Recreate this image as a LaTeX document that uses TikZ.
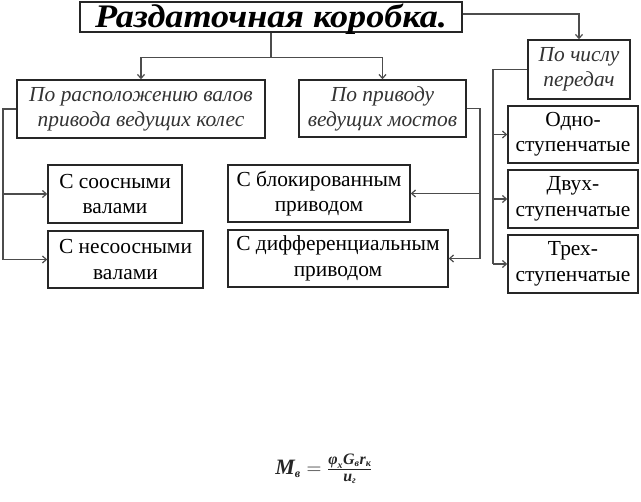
\documentclass[tikz,border=0pt]{standalone}
\usepackage{fontspec}
\setmainfont{Liberation Serif}
\newfontfamily\titlefont[FakeStretch=1.1]{Liberation Serif}
\usetikzlibrary{arrows.meta}
\newcommand{\bilet}[1]{\hbox{\fontsize{22}{24}\selectfont\bfseries\itshape #1}}
\newcommand{\cysub}[1]{\hbox{\fontsize{12}{13}\selectfont\bfseries\itshape #1}}
\newcommand{\numlet}[1]{\hbox{\fontsize{16}{18}\selectfont\bfseries\itshape #1}}
\newcommand{\numsub}[1]{\hbox{\fontsize{10}{11}\selectfont\bfseries\itshape #1}}
\begin{document}
\begin{tikzpicture}[x=1bp,y=-1bp,
  box/.style={draw=black!85, line width=1.4bp, inner sep=0pt, align=center, font=\fontsize{21.5}{25.5}\selectfont},
  ibox/.style={box, font=\fontsize{21.5}{25}\selectfont\itshape, text=black!80},
  conn/.style={draw=black!70, line width=1.2bp},
  arr/.style={conn, -{Straight Barb[length=4bp,width=7bp]}}]
\useasboundingbox (0,0) rectangle (641,502);
\node[box, minimum width=382bp, minimum height=30bp, text height=22bp, text depth=0pt, font=\titlefont\fontsize{33}{36}\selectfont\bfseries\itshape] (title) at (271,17) {Раздаточная коробка.};
\node[ibox, minimum width=248bp, minimum height=58bp] (A) at (141,109) {По расположению валов\\привода ведущих колес};
\node[ibox, minimum width=167bp, minimum height=57bp] (B) at (382.5,108.5) {По приводу\\ведущих мостов};
\node[ibox, minimum width=102bp, minimum height=59bp] (C) at (579,69.5) {По числу\\передач};
\node[box, minimum width=130bp, minimum height=57bp] (D) at (573,134.5) {Одно-\\ступенчатые};
\node[box, minimum width=130bp, minimum height=58bp] (E) at (573,199) {Двух-\\ступенчатые};
\node[box, minimum width=130bp, minimum height=58bp] (F) at (573,264) {Трех-\\ступенчатые};
\node[box, minimum width=134bp, minimum height=58bp] (G) at (115,194) {С соосными\\валами};
\node[box, minimum width=155bp, minimum height=57bp] (H) at (125.5,259.5) {С несоосными\\валами};
\node[box, minimum width=182bp, minimum height=57bp] (I) at (319,193.5) {С блокированным\\приводом};
\node[box, minimum width=220bp, minimum height=57bp] (J) at (338,258.5) {С дифференциальным\\приводом};
\coordinate (rx) at (493,0);
\coordinate (lx) at (3,0);
\coordinate (mx) at (480,0);
\draw[conn] (title.south) -- ++(0,25) coordinate (j1);
\draw[arr] (j1) -| (A.north);
\draw[arr] (j1) -| (B.north);
\draw[arr] ([yshift=3bp]title.east) -| (C.north);
\draw[conn] (C.west) -- (C.west -| rx) -- (F.west -| rx);
\draw[arr] (D.west -| rx) -- (D.west);
\draw[arr] (E.west -| rx) -- (E.west);
\draw[arr] (F.west -| rx) -- (F.west);
\draw[conn] (A.west) -- (A.west -| lx) -- (H.west -| lx);
\draw[arr] (G.west -| lx) -- (G.west);
\draw[arr] (H.west -| lx) -- (H.west);
\draw[conn] (B.east) -- (B.east -| mx) -- (J.east -| mx);
\draw[arr] (I.east -| mx) -- (I.east);
\draw[arr] (J.east -| mx) -- (J.east);
\node[text=black!85, inner sep=0pt] (formula) at (324,469) {\fontsize{20}{22}\selectfont $\bilet{M}_{\cysub{в}} = \frac{\numlet{φ}_{\numsub{х}}\numlet{G}_{\numsub{в}}\numlet{r}_{\numsub{к}}}{\numlet{u}_{\numsub{г}}}$};
\end{tikzpicture}
\end{document}
